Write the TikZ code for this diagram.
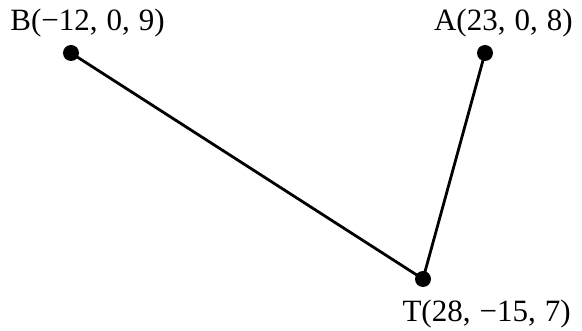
\documentclass[tikz,border=0pt]{standalone}
\usepackage{fontspec}
\setmainfont{Liberation Serif}
\tikzset{
  dot/.style={circle, fill, inner sep=0pt, minimum size=16pt},
  lbl/.style={font=\fontsize{31}{35}\selectfont, inner sep=0pt,
    execute at begin node={\spaceskip=9pt\relax}}
}
\begin{document}
\begin{tikzpicture}[x=1pt, y=-1pt, line width=2.8pt]
    \useasboundingbox (0,0) rectangle (582,331);
    \node[dot] (B) at (71,53) {};
    \node[dot] (A) at (485,53) {};
    \node[dot] (T) at (423,279) {};
    \node[lbl, anchor=base west] (Blbl) at (9,31) {B(−12, 0, 9)};
    \node[lbl, anchor=base east] (Albl) at (574,31) {A(23, 0, 8)};
    \node[lbl, anchor=base east] (Tlbl) at (572,322) {T(28, −15, 7)};
    \draw (B.center) -- (T.center) -- (A.center);
  \end{tikzpicture}
\end{document}
